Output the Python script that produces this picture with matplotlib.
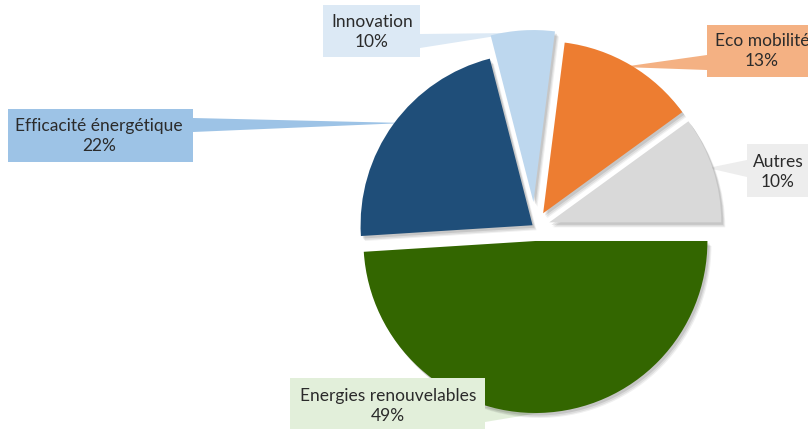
"""
Exploded pie with Excel-style callout labels: green finance allocation.
Writes out.png (808x429 px).
"""

import matplotlib
matplotlib.use("Agg")
import matplotlib.pyplot as plt
from matplotlib.patches import Polygon, Rectangle, Wedge

plt.rcParams["font.family"] = ["Lato", "DejaVu Sans"]

# ── data (counter-clockwise from 3 o'clock) ──────────────────
categories = ["Autres", "Eco mobilité", "Innovation",
              "Efficacité énergétique", "Energies renouvelables"]
shares = [10, 13, 6, 22, 49]            # slice sizes as drawn
shown_pct = [10, 13, 10, 22, 49]        # percentages printed in the callouts

# ── style ─────────────────────────────────────────────────────
W, H = 808, 429
slice_colors = ["#D9D9D9", "#ED7D31", "#BDD7EE", "#1F4E79", "#336600"]
box_colors = ["#EDEDED", "#F4B183", "#DCE9F5", "#9DC3E6", "#E2EFDA"]
explode_px = [15, 16, 25, 3, 14]
TEXT = "#2B2B2B"
R = 172
CX, CY = 535, H - 227

# callout geometry in pixel coords (y down): box (x0, y0, x1, y1), pointer tip,
# pointer base on the box edge, text centre
callouts = [
    dict(box=(747, 144, 812, 197), base=[(747, 160), (747, 177)], tip=(708, 168), txt=(778, 172)),
    dict(box=(707, 25, 812, 77), base=[(707, 55), (707, 70)], tip=(622, 67), txt=(762, 51)),
    dict(box=(323, 5, 420, 57), base=[(420, 34), (420, 48)], tip=(515, 33), txt=(372, 32)),
    dict(box=(8, 109, 193, 162), base=[(193, 118), (193, 132)], tip=(405, 123), txt=(99, 136)),
    dict(box=(290, 378, 485, 432), base=[(485, 407), (485, 422)], tip=(545, 412), txt=(388, 406)),
]


def py(y):
    return H - y


fig = plt.figure(figsize=(W / 100, H / 100), dpi=100, facecolor="white")
ax = fig.add_axes([0, 0, 1, 1])

wedges, _ = ax.pie(shares, colors=slice_colors, radius=R, center=(CX, CY),
                   startangle=0, counterclock=True, explode=explode_px,
                   wedgeprops=dict(linewidth=0, zorder=3))

# soft drop shadow under each slice
for w in wedges:
    cx, cy = w.center
    for dx, dy, a in [(4, -5, 0.06), (3, -4, 0.08), (2, -2.5, 0.10)]:
        ax.add_patch(Wedge((cx + dx, cy + dy), R, w.theta1, w.theta2,
                           facecolor="black", edgecolor="none", alpha=a, zorder=2))

# callouts: pointer tucked under the slice, box on top of everything
for c, name, pct, col in zip(callouts, categories, shown_pct, box_colors):
    x0, y0, x1, y1 = c["box"]
    ax.add_patch(Rectangle((x0, py(y1)), x1 - x0, y1 - y0,
                           facecolor=col, edgecolor="none", zorder=5))
    pts = [(x, py(y)) for x, y in c["base"]] + [(c["tip"][0], py(c["tip"][1]))]
    ax.add_patch(Polygon(pts, closed=True, facecolor=col, edgecolor="none", zorder=1))
    tx, ty = c["txt"]
    ax.text(tx, py(ty), f"{name}\n{pct}%", ha="center", va="center",
            fontsize=12.5, color=TEXT, linespacing=1.3, zorder=6)

ax.set_xlim(0, W)
ax.set_ylim(0, H)
ax.set_aspect("equal")
ax.axis("off")

fig.savefig("out.png", dpi=100, facecolor="white")
